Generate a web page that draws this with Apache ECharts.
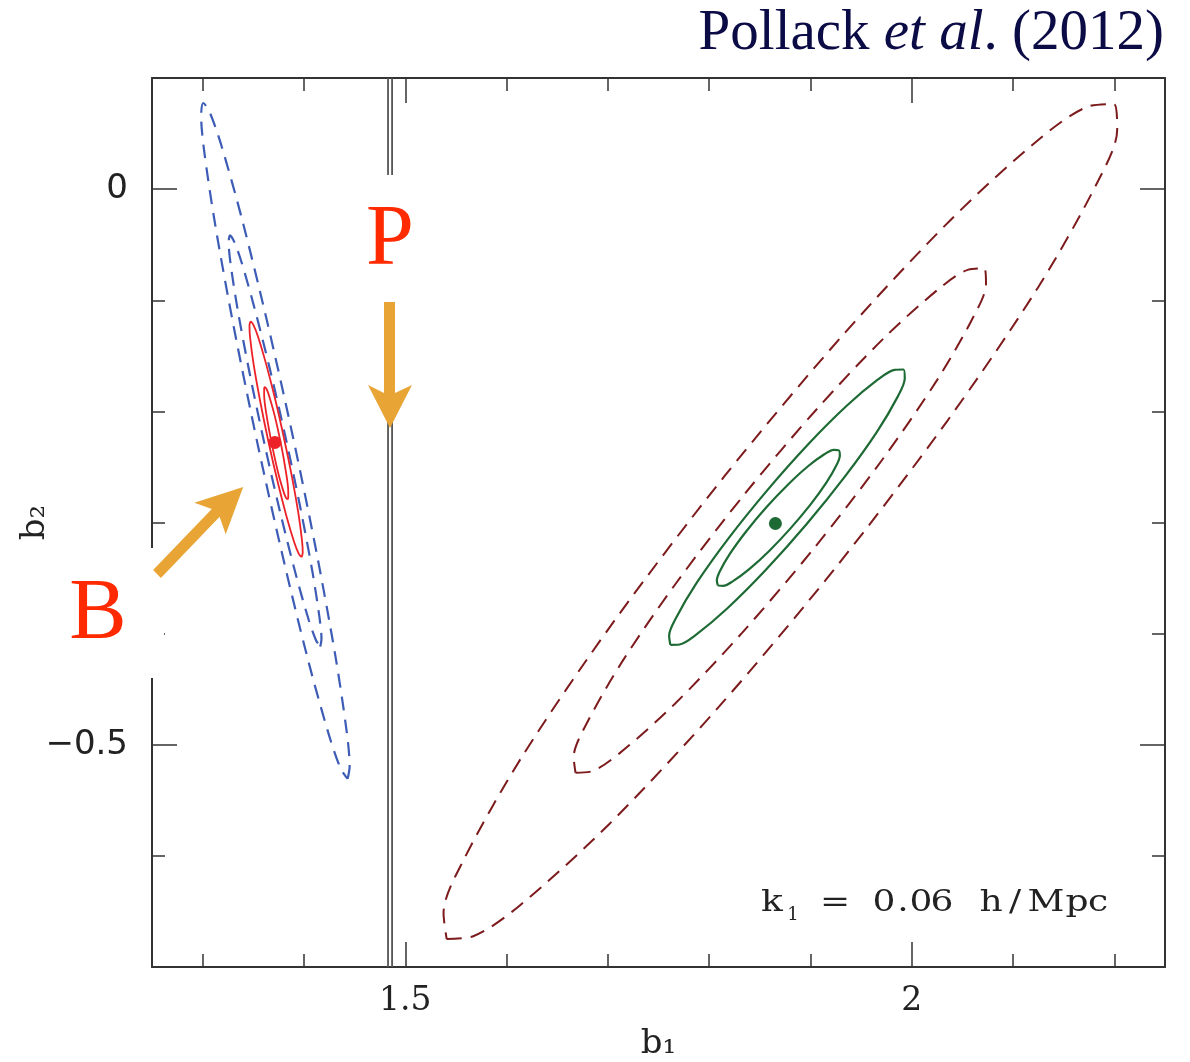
<!DOCTYPE html>
<html><head><meta charset="utf-8">
<script src="https://cdn.jsdelivr.net/npm/echarts@6/dist/echarts.min.js"></script>
<style>html,body{margin:0;padding:0;background:#fff}#c{width:1190px;height:1062px}</style>
</head><body><div id="c"></div>
<script>
// ---- axis ticks / labels ----
const xTicks = [1.3, 1.4, 1.5, 1.6, 1.7, 1.8, 1.9, 2.0, 2.1, 2.2];
const xMajor = [1.5, 2];
const yTicks = [-0.6, -0.5, -0.4, -0.3, -0.2, -0.1, 0];
const yMajor = [0, -0.5];
// ---- vertical double line (P constraint on b1) ----
const pLimit = [1.483, 1.487];
// ---- best-fit points ----
const bestB = [[1.3713, -0.2279]];
const bestP = [[1.8654, -0.3009]];
// ---- contours (b1, b2) ----
const blueOuter = [[1.4431,-0.5307],[1.4451,-0.5194],[1.4422,-0.4882],[1.4309,-0.4194],[1.4125,-0.3274],[1.3892,-0.2232],[1.3637,-0.1194],[1.3393,-0.0286],[1.3188,0.0384],[1.3075,0.0680],[1.3006,0.0775],[1.2985,0.0662],[1.3014,0.0350],[1.3127,-0.0338],[1.3311,-0.1258],[1.3544,-0.2300],[1.3799,-0.3338],[1.4043,-0.4246],[1.4248,-0.4916],[1.4361,-0.5212],[1.4431,-0.5307]];
const blueInner = [[1.4161,-0.4117],[1.4173,-0.4049],[1.4154,-0.3859],[1.4083,-0.3440],[1.3967,-0.2879],[1.3821,-0.2245],[1.3662,-0.1613],[1.3509,-0.1060],[1.3382,-0.0652],[1.3311,-0.0472],[1.3269,-0.0415],[1.3257,-0.0483],[1.3276,-0.0674],[1.3347,-0.1092],[1.3463,-0.1653],[1.3609,-0.2287],[1.3768,-0.2919],[1.3921,-0.3472],[1.4048,-0.3880],[1.4119,-0.4060],[1.4161,-0.4117]];
const redOuter = [[1.3977,-0.3312],[1.3988,-0.3272],[1.3981,-0.3163],[1.3946,-0.2922],[1.3884,-0.2600],[1.3802,-0.2237],[1.3712,-0.1875],[1.3622,-0.1559],[1.3546,-0.1326],[1.3502,-0.1224],[1.3474,-0.1192],[1.3462,-0.1232],[1.3469,-0.1341],[1.3504,-0.1582],[1.3567,-0.1904],[1.3648,-0.2267],[1.3739,-0.2629],[1.3828,-0.2945],[1.3904,-0.3178],[1.3948,-0.3280],[1.3977,-0.3312]];
const redInner = [[1.3838,-0.2793],[1.3845,-0.2774],[1.3845,-0.2721],[1.3820,-0.2533],[1.3770,-0.2279],[1.3708,-0.2027],[1.3651,-0.1845],[1.3629,-0.1796],[1.3614,-0.1781],[1.3607,-0.1800],[1.3607,-0.1853],[1.3632,-0.2041],[1.3683,-0.2295],[1.3744,-0.2547],[1.3801,-0.2729],[1.3823,-0.2778],[1.3838,-0.2793]];
const greenInner = [[1.8086,-0.3567],[1.8137,-0.3571],[1.8225,-0.3534],[1.8390,-0.3424],[1.8590,-0.3258],[1.8801,-0.3055],[1.8998,-0.2842],[1.9157,-0.2642],[1.9259,-0.2481],[1.9290,-0.2397],[1.9280,-0.2351],[1.9229,-0.2347],[1.9141,-0.2384],[1.8976,-0.2494],[1.8777,-0.2660],[1.8565,-0.2863],[1.8369,-0.3076],[1.8209,-0.3276],[1.8107,-0.3437],[1.8076,-0.3522],[1.8086,-0.3567]];
const greenOuter = [[1.7617,-0.4101],[1.7707,-0.4098],[1.7869,-0.4011],[1.8178,-0.3774],[1.8558,-0.3428],[1.8963,-0.3014],[1.9345,-0.2581],[1.9658,-0.2182],[1.9863,-0.1865],[1.9931,-0.1705],[1.9919,-0.1623],[1.9830,-0.1626],[1.9667,-0.1713],[1.9358,-0.1950],[1.8978,-0.2296],[1.8573,-0.2711],[1.8191,-0.3143],[1.7878,-0.3542],[1.7673,-0.3859],[1.7605,-0.4019],[1.7617,-0.4101]];
const darkMid = [[1.6681,-0.5252],[1.6837,-0.5240],[1.7120,-0.5073],[1.7660,-0.4633],[1.8325,-0.3993],[1.9035,-0.3232],[1.9705,-0.2440],[2.0253,-0.1714],[2.0613,-0.1141],[2.0733,-0.0854],[2.0715,-0.0712],[2.0559,-0.0724],[2.0276,-0.0891],[1.9736,-0.1331],[1.9071,-0.1971],[1.8361,-0.2732],[1.7691,-0.3524],[1.7143,-0.4250],[1.6783,-0.4823],[1.6663,-0.5110],[1.6681,-0.5252]];
const darkOuter = [[1.5409,-0.6748],[1.5665,-0.6725],[1.6128,-0.6448],[1.7010,-0.5717],[1.8097,-0.4657],[1.9257,-0.3396],[2.0350,-0.2087],[2.1245,-0.0887],[2.1833,0.0062],[2.2028,0.0535],[2.1997,0.0766],[2.1741,0.0743],[2.1278,0.0465],[2.0396,-0.0266],[1.9309,-0.1325],[1.8149,-0.2586],[1.7056,-0.3895],[1.6161,-0.5095],[1.5573,-0.6042],[1.5378,-0.6515],[1.5409,-0.6748]];

const AX = '#333';
function xAxisCfg(pos, ticks, len, line, labels, name) {
  return {
    type: 'value', min: 1.25, max: 2.25, position: pos, gridIndex: 0,
    axisLine: { show: line, onZero: false, lineStyle: { color: AX, width: 2 } },
    axisTick: { show: true, inside: true, length: len, customValues: ticks, lineStyle: { color: AX, width: 1.5 } },
    axisLabel: labels ? { show: true, customValues: xMajor, margin: 18, fontFamily: 'DejaVu Serif', fontSize: 33, color: '#222', formatter: v => String(v) } : { show: false },
    splitLine: { show: false },
    name: name || '', nameLocation: 'middle', nameGap: 60, nameMoveOverlap: false,
    nameTextStyle: { fontFamily: 'DejaVu Serif', fontSize: 34, color: '#222' }
  };
}
function yAxisCfg(pos, ticks, len, line, labels, name) {
  return {
    type: 'value', min: -0.7, max: 0.1, position: pos, gridIndex: 0,
    axisLine: { show: line, onZero: false, lineStyle: { color: AX, width: 2 } },
    axisTick: { show: true, inside: true, length: len, customValues: ticks, lineStyle: { color: AX, width: 1.5 } },
    axisLabel: labels ? { show: true, customValues: yMajor, margin: 24, fontFamily: 'DejaVu Sans', fontSize: 34, color: '#222', formatter: v => (v < 0 ? '\u2212' + Math.abs(v) : String(v)) } : { show: false },
    splitLine: { show: false },
    name: name || '', nameLocation: 'middle', nameGap: 100, nameRotate: 90, nameMoveOverlap: false,
    nameTextStyle: { fontFamily: 'DejaVu Serif', fontSize: 34, color: '#222' }
  };
}
function contour(data, color, width, dash) {
  return { type: 'line', data: data, showSymbol: false, symbol: 'none', smooth: 0.3, silent: true,
    lineStyle: { color: color, width: width, type: dash || 'solid' }, z: 3 };
}
const BLUE = '#3d5cb6', RED = '#ec2228', GREEN = '#1d6a34', DARK = '#7c1a1c';

const series = [
  contour(blueOuter, BLUE, 2.2, [14, 9]),
  contour(blueInner, BLUE, 2.2, [14, 9]),
  contour(redOuter, RED, 1.8),
  contour(redInner, RED, 1.8),
  contour(darkOuter, DARK, 2, [15, 9]),
  contour(darkMid, DARK, 2, [15, 9]),
  contour(greenOuter, GREEN, 2.2),
  contour(greenInner, GREEN, 2.2),
  ...pLimit.map(v => ({ type: 'line', data: [[v, -0.7], [v, 0.1]], showSymbol: false, symbol: 'none', silent: true, lineStyle: { color: '#555', width: 1.8 }, z: 2 })),
  { type: 'scatter', data: bestB, symbolSize: 13, itemStyle: { color: RED, opacity: 1 }, silent: true, z: 4 },
  { type: 'scatter', data: bestP, symbolSize: 13, itemStyle: { color: GREEN, opacity: 1 }, silent: true, z: 4 }
];

const ORANGE = '#e8a535';
const kChars = [['k', 772], ['=', 835], ['0', 884], ['.', 903], ['0', 921], ['6', 942], ['h', 991], ['/', 1015], ['M', 1046], ['p', 1077], ['c', 1098]];
const graphic = [
  { type: 'rect', z: 100, shape: { x: 40, y: 548, width: 124, height: 130 }, style: { fill: '#fff' } },
  { type: 'rect', z: 100, shape: { x: 370, y: 175, width: 40, height: 225 }, style: { fill: '#fff' } },
  { type: 'polygon', z: 101, shape: { points: [[384, 302], [395, 302], [395, 393], [412, 385], [390, 428], [368, 385], [384, 393]] }, style: { fill: ORANGE } },
  { type: 'polygon', z: 101, shape: { points: [[153.1, 570.1], [160.9, 577.9], [219.6, 516.7], [225.7, 534.2], [243.2, 486.9], [194.3, 502.8], [211.8, 508.9]] }, style: { fill: ORANGE } },
  { type: 'text', z: 102, x: 390, y: 241, style: { text: 'P', font: '86px "Liberation Serif"', fill: '#ff2a00', align: 'center', verticalAlign: 'middle' } },
  { type: 'text', z: 102, x: 98, y: 615, style: { text: 'B', font: '86px "Liberation Serif"', fill: '#ff2a00', align: 'center', verticalAlign: 'middle' } },
  { type: 'text', z: 102, x: 1164, y: 34, style: { text: '{n|Pollack }{i|et al}{n|. (2012)}', align: 'right', verticalAlign: 'middle',
      rich: { n: { fill: '#0b0b45', fontSize: 57, fontFamily: 'Liberation Serif' },
              i: { fill: '#0b0b45', fontSize: 57, fontStyle: 'italic', fontFamily: 'Liberation Serif' } } } },
  ...kChars.map(c => ({ type: 'text', z: 102, x: c[1], y: 903, scaleX: 1.2, style: { text: c[0], font: '30px "DejaVu Serif"', fill: '#222', align: 'center', verticalAlign: 'middle' } })),
  { type: 'text', z: 102, x: 793, y: 915, style: { text: '1', font: '18px "DejaVu Serif"', fill: '#222', align: 'center', verticalAlign: 'middle' } }
];

const chart = echarts.init(document.getElementById('c'), null, { renderer: 'canvas' });
chart.setOption({
  animation: false,
  backgroundColor: '#fff',
  grid: { left: 152, top: 78, width: 1013, height: 889, containLabel: false, outerBoundsMode: 'none' },
  xAxis: [
    xAxisCfg('bottom', xTicks, 13, true, true, 'b\u2081'),
    xAxisCfg('bottom', xMajor, 25, false, false),
    xAxisCfg('top', xTicks, 13, true, false),
    xAxisCfg('top', xMajor, 25, false, false)
  ],
  yAxis: [
    yAxisCfg('left', yTicks, 13, true, true, 'b\u2082'),
    yAxisCfg('left', yMajor, 25, false, false),
    yAxisCfg('right', yTicks, 13, true, false),
    yAxisCfg('right', yMajor, 25, false, false)
  ],
  series: series,
  graphic: graphic
});
</script></body></html>
